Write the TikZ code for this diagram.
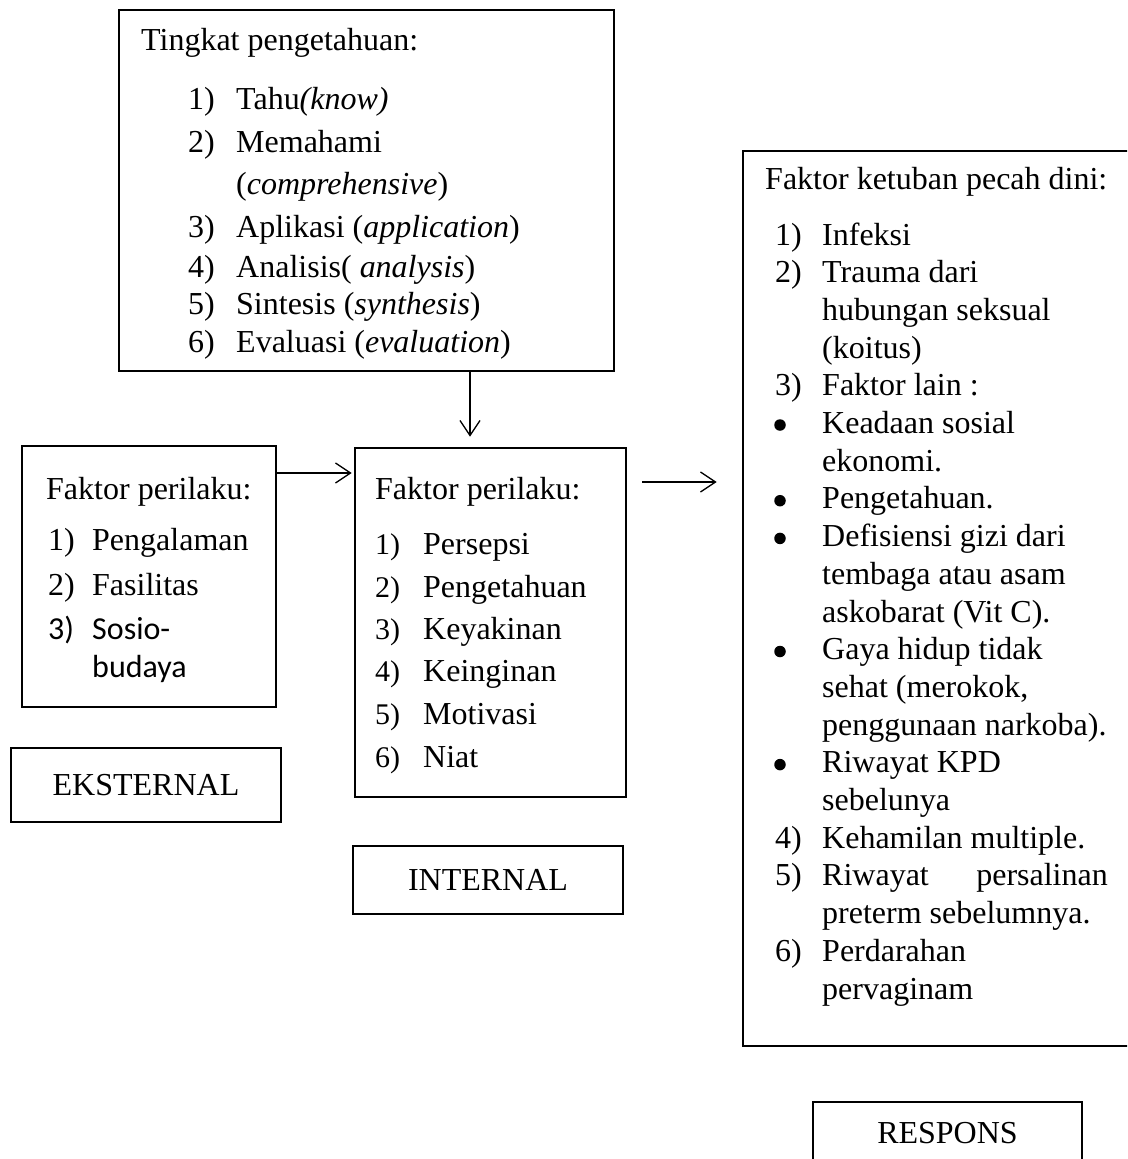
\documentclass[tikz,border=0pt]{standalone}
\usepackage{fontspec}
\setmainfont{Liberation Serif}
\newfontfamily\calibri{Carlito}
\usetikzlibrary{arrows.meta}
\begin{document}
\begin{tikzpicture}[x=1pt,y=-1pt,
  every node/.style={font=\fontsize{32}{38}\selectfont},
  box/.style={draw, line width=2.7pt, inner sep=0pt, rectangle},
  txt/.style={inner sep=0pt, anchor=base west},
  bul/.style={circle, fill=black, inner sep=0pt, minimum size=11.5pt},
  arr/.style={line width=1.3pt, -{Straight Barb[length=15pt,width=20pt]}}]
\useasboundingbox (0,0) rectangle (1127,1159);
\clip (0,0) rectangle (1127,1159);
\fill[white] (0,0) rectangle (1127,1159);

% boxes
\node[box, minimum width=495pt, minimum height=361pt] (tbox) at (366.5,190.5) {};
\node[box, minimum width=254pt, minimum height=261pt] (lbox) at (149,576.5) {};
\node[box, minimum width=271pt, minimum height=349pt] (mbox) at (490.5,622.5) {};
\node[box, minimum width=407pt, minimum height=895pt] (rbox) at (946.5,598.5) {};
\node[box, minimum width=270pt, minimum height=74pt] (ebox) at (146,785) {EKSTERNAL};
\node[box, minimum width=270pt, minimum height=68pt] (ibox) at (488,880) {INTERNAL};
\node[box, minimum width=269pt, minimum height=62pt] (sbox) at (947.5,1133) {RESPONS};

% top box text
\node[txt] (th) at (141,50) {Tingkat pengetahuan:};
\node[txt] (tn1) at (188,109) {1)};
\node[txt] (tt1) at (236,109) {Tahu\textit{(know)}};
\node[txt] (tn2) at (188,152) {2)};
\node[txt] (tt2) at (236,152) {Memahami};
\node[txt] (tt2b) at (236,194) {(\textit{comprehensive})};
\node[txt] (tn3) at (188,237) {3)};
\node[txt] (tt3) at (236,237) {Aplikasi (\textit{application})};
\node[txt] (tn4) at (188,277) {4)};
\node[txt] (tt4) at (236,277) {Analisis( \textit{analysis})};
\node[txt] (tn5) at (188,314) {5)};
\node[txt] (tt5) at (236,314) {Sintesis (\textit{synthesis})};
\node[txt] (tn6) at (188,352) {6)};
\node[txt] (tt6) at (236,352) {Evaluasi (\textit{evaluation})};

% left box text
\node[txt] (lh) at (46,499) {Faktor perilaku:};
\node[txt] (ln1) at (48,550) {1)};
\node[txt] (lt1) at (92,550) {Pengalaman};
\node[txt] (ln2) at (48,595) {2)};
\node[txt] (lt2) at (92,595) {Fasilitas};
\node[txt, font=\fontsize{32}{38}\calibri] (ln3) at (48,639.5) {3)};
\node[txt, font=\fontsize{32}{38}\calibri] (lt3) at (92,639.5) {Sosio-};
\node[txt, font=\fontsize{32}{38}\calibri] (lt3b) at (92,677.5) {budaya};

% middle box text
\node[txt] (mh) at (375,499) {Faktor perilaku:};
\node[txt, font=\fontsize{30}{36}\selectfont] (mn1) at (375,554) {1)};
\node[txt] (mt1) at (423,554) {Persepsi};
\node[txt, font=\fontsize{30}{36}\selectfont] (mn2) at (375,597) {2)};
\node[txt] (mt2) at (423,597) {Pengetahuan};
\node[txt, font=\fontsize{30}{36}\selectfont] (mn3) at (375,639) {3)};
\node[txt] (mt3) at (423,639) {Keyakinan};
\node[txt, font=\fontsize{30}{36}\selectfont] (mn4) at (375,681) {4)};
\node[txt] (mt4) at (423,681) {Keinginan};
\node[txt, font=\fontsize{30}{36}\selectfont] (mn5) at (375,724) {5)};
\node[txt] (mt5) at (423,724) {Motivasi};
\node[txt, font=\fontsize{30}{36}\selectfont] (mn6) at (375,767) {6)};
\node[txt] (mt6) at (423,767) {Niat};

% right box text
\node[txt] (rh) at (765,189) {Faktor ketuban pecah dini:};
\node[txt] (rn1) at (775,245) {1)};
\node[txt] (rt0) at (822,245) {Infeksi};
\node[txt] (rn2) at (775,282.7) {2)};
\node[txt] (rt1) at (822,282.7) {Trauma dari};
\node[txt] (rt2) at (822,320.4) {hubungan seksual};
\node[txt] (rt3) at (822,358.1) {(koitus)};
\node[txt] (rn3) at (775,395.8) {3)};
\node[txt] (rt4) at (822,395.8) {Faktor lain :};
\node[bul] (rb1) at (780,425) {};
\node[txt] (rt5) at (822,433.5) {Keadaan sosial};
\node[txt] (rt6) at (822,471.2) {ekonomi.};
\node[bul] (rb2) at (780,500.7) {};
\node[txt] (rt7) at (822,508.9) {Pengetahuan.};
\node[bul] (rb3) at (780,538.4) {};
\node[txt] (rt8) at (822,546.6) {Defisiensi gizi dari};
\node[txt] (rt9) at (822,584.3) {tembaga atau asam};
\node[txt] (rt10) at (822,622) {askobarat (Vit C).};
\node[bul] (rb4) at (780,651.5) {};
\node[txt] (rt11) at (822,659.7) {Gaya hidup tidak};
\node[txt] (rt12) at (822,697.4) {sehat (merokok,};
\node[txt] (rt13) at (822,735.1) {penggunaan narkoba).};
\node[bul] (rb5) at (780,764.6) {};
\node[txt] (rt14) at (822,772.8) {Riwayat KPD};
\node[txt] (rt15) at (822,810.5) {sebelunya};
\node[txt] (rn4) at (775,848.2) {4)};
\node[txt] (rt16) at (822,848.2) {Kehamilan multiple.};
\node[txt] (rn5) at (775,885.9) {5)};
\node[txt] (rt17) at (822,885.9) {Riwayat};
\node[inner sep=0pt, anchor=base east] (rt17b) at (1108,885.9) {persalinan};
\node[txt] (rt18) at (822,923.6) {preterm sebelumnya.};
\node[txt] (rn6) at (775,961.3) {6)};
\node[txt] (rt19) at (822,961.3) {Perdarahan};
\node[txt] (rt20) at (822,999) {pervaginam};

% connectors
\coordinate (a1) at (0,473);
\coordinate (a2) at (0,482);
\coordinate (a3) at (470,0);
\draw[arr, shorten >=2pt] (lbox.east |- a1) -- (mbox.west |- a1);
\draw[arr, shorten <=15pt, shorten >=25pt] (mbox.east |- a2) -- (rbox.west |- a2);
\draw[arr, shorten >=10pt] (tbox.south -| a3) -- (mbox.north -| a3);
\end{tikzpicture}
\end{document}
